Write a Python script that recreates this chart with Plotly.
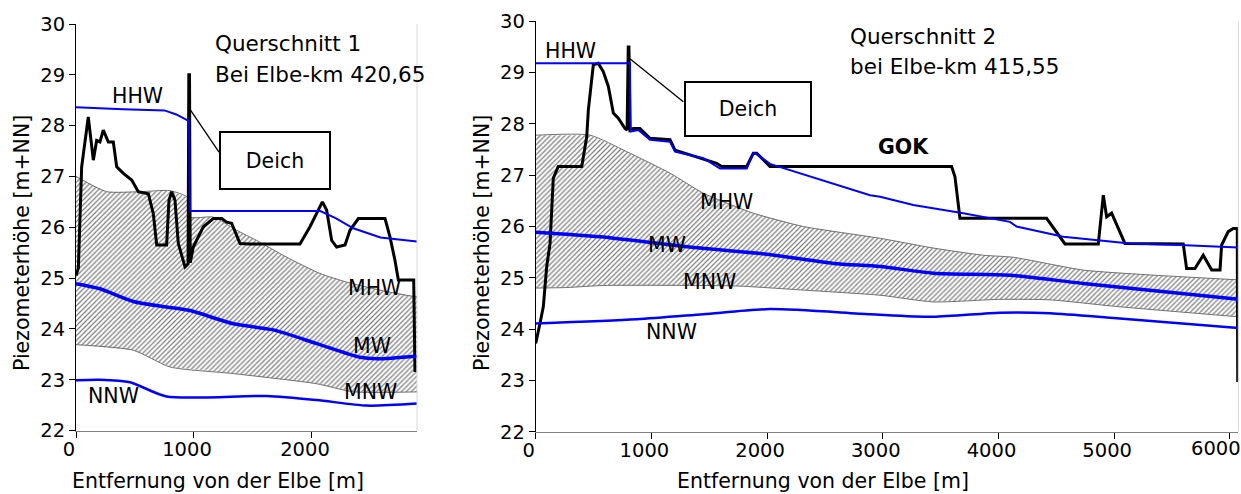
import plotly.graph_objects as go

# ---------------- Querschnitt 1 (Elbe-km 420,65) ----------------
q1_gok_x = [0, 20, 48, 104, 147, 175, 203, 231, 274, 316, 345, 401, 472, 528, 613, 655, 684, 768,
            788, 811, 839, 867, 924, 950, 956, 962, 968, 994, 1079, 1164, 1235, 1277, 1319, 1390,
            1475, 1898, 1983, 2054, 2088, 2124, 2167, 2209, 2280, 2322, 2393, 2619, 2661, 2703,
            2732, 2853, 2862, 2873]
q1_gok_y = [25.05, 25.2, 27.19, 28.17, 27.32, 27.71, 27.68, 27.91, 27.68, 27.68, 27.19, 27.06, 26.93,
            26.70, 26.66, 26.27, 25.65, 25.65, 26.53, 26.70, 26.53, 25.68, 25.22, 25.28, 29.0, 29.0,
            25.30, 25.61, 26.01, 26.17, 26.17, 26.10, 26.08, 25.68, 25.67, 25.67, 26.01, 26.34, 26.50,
            26.34, 25.74, 25.61, 25.65, 25.94, 26.17, 26.17, 25.81, 25.35, 24.96, 24.96, 24.96, 23.15]

q1_hhw_x = [0, 400, 750, 850, 958, 966, 2070, 2200, 2350, 2580, 2890]
q1_hhw_y = [28.36, 28.32, 28.30, 28.22, 28.09, 26.32, 26.32, 26.18, 25.98, 25.80, 25.72]

q1_mhw_x = [0, 260, 542, 797, 950, 966, 1164, 1362, 1531, 1786, 2068, 2294, 2600, 2859, 2890]
q1_mhw_y = [27.0, 26.70, 26.70, 26.72, 26.58, 26.20, 26.20, 25.94, 25.74, 25.41, 25.09, 24.92, 24.75, 24.64, 24.64]

q1_mnw_x = [0, 486, 797, 1333, 2040, 2350, 2890]
q1_mnw_y = [23.69, 23.58, 23.25, 23.12, 22.92, 22.76, 22.76]

q1_mw_x = [0, 203, 486, 768, 966, 1333, 1672, 2040, 2407, 2548, 2890]
q1_mw_y = [24.89, 24.79, 24.54, 24.43, 24.36, 24.10, 23.98, 23.71, 23.44, 23.41, 23.46]

q1_nnw_x = [0, 203, 458, 768, 1616, 2040, 2463, 2890]
q1_nnw_y = [22.99, 23.0, 22.95, 22.67, 22.68, 22.60, 22.49, 22.53]

# ---------------- Querschnitt 2 (Elbe-km 415,55) ----------------
q2_gok_x = [0, 22, 37, 66, 80, 95, 124, 152, 195, 398, 441, 455, 498, 541, 584, 628, 671, 714, 772,
            790, 800, 806, 815, 844, 901, 988, 1161, 1204, 1564, 1607, 1824, 1881, 1910, 2025, 3595,
            3624, 3667, 4416, 4575, 4863, 4906, 4935, 4978, 5093, 5597, 5626, 5698, 5770, 5843, 5915,
            5929, 5986, 6029, 6064, 6068]
q2_gok_y = [23.72, 23.92, 24.11, 24.44, 24.76, 25.22, 25.67, 26.94, 27.17, 27.17, 27.75, 28.27, 29.15,
            29.18, 29.02, 28.73, 28.21, 28.11, 27.91, 27.88, 29.50, 29.50, 27.88, 27.91, 27.91, 27.72,
            27.69, 27.49, 27.23, 27.17, 27.17, 27.43, 27.43, 27.17, 27.17, 26.97, 26.16, 26.16, 25.66,
            25.66, 26.61, 26.19, 26.26, 25.67, 25.66, 25.18, 25.18, 25.44, 25.15, 25.15, 25.64, 25.90,
            25.96, 25.96, 22.97]

q2_hhw_x = [0, 815, 820, 887, 988, 1161, 1204, 1449, 1593, 1824, 1881, 1910, 2025, 2890, 2977, 3264,
            3696, 4099, 4157, 4560, 5136, 5569, 6073]
q2_hhw_y = [29.18, 29.18, 27.85, 27.88, 27.69, 27.65, 27.46, 27.33, 27.13, 27.13, 27.43, 27.41, 27.22,
            26.61, 26.58, 26.42, 26.26, 26.09, 26.0, 25.80, 25.67, 25.64, 25.59]

q2_mhw_x = [0, 469, 786, 1161, 1449, 1881, 2313, 2977, 3437, 3869, 4128, 4733, 5281, 6073]
q2_mhw_y = [27.78, 27.78, 27.46, 27.04, 26.65, 26.26, 26.0, 25.77, 25.58, 25.44, 25.40, 25.15, 25.06, 24.96]

q2_mnw_x = [0, 268, 584, 1737, 2313, 2977, 3437, 4013, 4446, 5022, 6073]
q2_mnw_y = [24.80, 24.81, 24.85, 24.84, 24.76, 24.66, 24.53, 24.58, 24.57, 24.44, 24.24]

q2_mw_x = [0, 556, 1420, 1997, 2572, 2977, 3437, 4099, 4733, 6073]
q2_mw_y = [25.89, 25.80, 25.58, 25.46, 25.28, 25.22, 25.09, 25.05, 24.89, 24.58]

q2_nnw_x = [0, 873, 1449, 2025, 2889, 3437, 4013, 4446, 5022, 6073]
q2_nnw_y = [24.11, 24.19, 24.29, 24.39, 24.29, 24.24, 24.32, 24.31, 24.21, 24.02]

# ---------------- axes & text ----------------
y_ticks = [22, 23, 24, 25, 26, 27, 28, 29, 30]
q1_x_ticks = [0, 1000, 2000]
q2_x_ticks = [0, 1000, 2000, 3000, 4000, 5000, 6000]
q1_x_max = 2890
q2_x_max = 6073

x_title = "Entfernung von der Elbe [m]"
y_title = "Piezometerhöhe [m+NN]"
q1_title = ["Querschnitt 1", "Bei Elbe-km 420,65"]
q2_title = ["Querschnitt 2", "bei Elbe-km 415,55"]

FONT = "DejaVu Sans"
BLUE = "#0000ff"

fig = go.Figure()


def add_section(xa, ya, gok, hhw, mhw, mnw, mw, nnw):
    # hatched band between MHW and MNW
    band_x = list(mhw[0]) + list(reversed(mnw[0]))
    band_y = list(mhw[1]) + list(reversed(mnw[1]))
    fig.add_trace(go.Scatter(
        x=band_x, y=band_y, xaxis=xa, yaxis=ya, mode="lines", fill="toself",
        line=dict(width=0), fillcolor="rgba(0,0,0,0)",
        fillpattern=dict(shape="/", fgcolor="#7a7a7a", bgcolor="#ffffff", size=3.5, solidity=0.35),
        hoverinfo="skip", showlegend=False))
    for xs, ys in (mhw, mnw):
        fig.add_trace(go.Scatter(x=xs, y=ys, xaxis=xa, yaxis=ya, mode="lines",
                                 line=dict(color="#707070", width=1, shape="spline", smoothing=0.6),
                                 showlegend=False))
    fig.add_trace(go.Scatter(x=gok[0], y=gok[1], xaxis=xa, yaxis=ya, mode="lines",
                             line=dict(color="black", width=3), showlegend=False))
    fig.add_trace(go.Scatter(x=hhw[0], y=hhw[1], xaxis=xa, yaxis=ya, mode="lines",
                             line=dict(color=BLUE, width=2), showlegend=False))
    fig.add_trace(go.Scatter(x=mw[0], y=mw[1], xaxis=xa, yaxis=ya, mode="lines",
                             line=dict(color=BLUE, width=3.5, shape="spline", smoothing=0.7),
                             showlegend=False))
    fig.add_trace(go.Scatter(x=nnw[0], y=nnw[1], xaxis=xa, yaxis=ya, mode="lines",
                             line=dict(color=BLUE, width=2.5, shape="spline", smoothing=0.7),
                             showlegend=False))


add_section("x", "y", (q1_gok_x, q1_gok_y), (q1_hhw_x, q1_hhw_y), (q1_mhw_x, q1_mhw_y),
            (q1_mnw_x, q1_mnw_y), (q1_mw_x, q1_mw_y), (q1_nnw_x, q1_nnw_y))
add_section("x2", "y2", (q2_gok_x, q2_gok_y), (q2_hhw_x, q2_hhw_y), (q2_mhw_x, q2_mhw_y),
            (q2_mnw_x, q2_mnw_y), (q2_mw_x, q2_mw_y), (q2_nnw_x, q2_nnw_y))

tickfont = dict(family=FONT, size=19.5, color="black")


def xaxis_cfg(domain, rng, ticks, anchor):
    # the last label of the wide section is placed separately so it stays inside the page
    labels = [str(t) if t < 6000 else "" for t in ticks]
    return dict(domain=domain, range=rng, tickvals=ticks, ticktext=labels, ticks="outside",
                ticklen=6, tickcolor="black", showline=True, linecolor="#808080", linewidth=1,
                showgrid=False, zeroline=False, tickfont=tickfont, anchor=anchor,
                automargin=False, ticklabeloverflow="allow", ticklabelshift=-7,
                ticklabelstandoff=-5)


def yaxis_cfg(domain, anchor):
    return dict(domain=domain, range=[22, 30], tickvals=y_ticks, ticks="outside", ticklen=6,
                tickcolor="black", showline=True, linecolor="black", linewidth=1,
                showgrid=False, zeroline=False, tickfont=tickfont, anchor=anchor,
                automargin=False, ticklabeloverflow="allow")


lab = dict(family=FONT, size=20.5, color="black")
ttl = dict(family=FONT, size=21.5, color="black")


def note(text, xref, yref, x, y, font=lab, xanchor="center", **kw):
    return dict(text=text, xref=xref, yref=yref, x=x, y=y, showarrow=False, font=font,
                xanchor=xanchor, yanchor="middle", **kw)


annotations = [
    # axis titles
    note(x_title, "paper", "paper", 218 / 1241, 1 - 481 / 494),
    note(x_title, "paper", "paper", 823 / 1241, 1 - 481 / 494),
    note(y_title, "paper", "paper", 22 / 1241, 1 - 243 / 494, textangle=-90),
    note(y_title, "paper", "paper", 482 / 1241, 1 - 243 / 494, textangle=-90),
    # last tick label of section 2, kept inside the right edge
    note(str(q2_x_ticks[-1]), "x2", "paper", q2_x_ticks[-1], 1 - 448.5 / 494,
         font=tickfont, xanchor="right", xshift=13),
    # section titles
    note(q1_title[0], "x", "y", 1161, 29.61, font=ttl, xanchor="left"),
    note(q1_title[1], "x", "y", 1161, 29.01, font=ttl, xanchor="left"),
    note(q2_title[0], "x2", "y2", 2699, 29.71, font=ttl, xanchor="left"),
    note(q2_title[1], "x2", "y2", 2699, 29.11, font=ttl, xanchor="left"),
    # curve labels, section 1
    note("HHW", "x", "y", 525, 28.58),
    note("MHW", "x", "y", 2534, 24.80),
    note("MW", "x", "y", 2508, 23.66),
    note("MNW", "x", "y", 2500, 22.75),
    note("NNW", "x", "y", 322, 22.67),
    # curve labels, section 2
    note("HHW", "x2", "y2", 305, 29.42),
    note("MHW", "x2", "y2", 1645, 26.48),
    note("MW", "x2", "y2", 1135, 25.64),
    note("MNW", "x2", "y2", 1498, 24.92),
    note("NNW", "x2", "y2", 1178, 23.94),
    note("<b>GOK</b>", "x2", "y2", 3183, 27.55),
    # dike callouts
    note("Deich", "x", "y", 1686, 27.31, width=104, height=51, bordercolor="black",
         borderwidth=2, borderpad=2, bgcolor="white"),
    note("Deich", "x2", "y2", 1835, 28.29, width=120, height=48, bordercolor="black",
         borderwidth=2, borderpad=2, bgcolor="white"),
]

shapes = [
    dict(type="line", xref="x", yref="y", x0=949, y0=28.38, x1=1212, y1=27.48,
         line=dict(color="black", width=1.3)),
    dict(type="line", xref="x2", yref="y2", x0=809, y0=29.28, x1=1276, y1=28.43,
         line=dict(color="black", width=1.3)),
    # faint right border of each plot area
    dict(type="line", xref="x domain", yref="y domain", x0=1, y0=0, x1=1, y1=1,
         line=dict(color="#d8d8d8", width=1)),
    dict(type="line", xref="x2 domain", yref="y2 domain", x0=1, y0=0, x1=1, y1=1,
         line=dict(color="#d8d8d8", width=1)),
]

fig.update_layout(
    template="none",
    width=1241, height=494, margin=dict(l=0, r=0, t=0, b=0, pad=0, autoexpand=False),
    paper_bgcolor="white", plot_bgcolor="white", showlegend=False,
    font=dict(family=FONT, color="black"),
    xaxis=xaxis_cfg([76 / 1241, 417 / 1241], [0, q1_x_max], q1_x_ticks, "y"),
    yaxis=yaxis_cfg([1 - 430.5 / 494, 1 - 24 / 494], "x"),
    xaxis2=xaxis_cfg([535.7 / 1241, 1238.3 / 1241], [0, q2_x_max], q2_x_ticks, "y2"),
    yaxis2=yaxis_cfg([1 - 431.7 / 494, 1 - 21.3 / 494], "x2"),
    annotations=annotations, shapes=shapes,
)

fig.write_html("out.html")
